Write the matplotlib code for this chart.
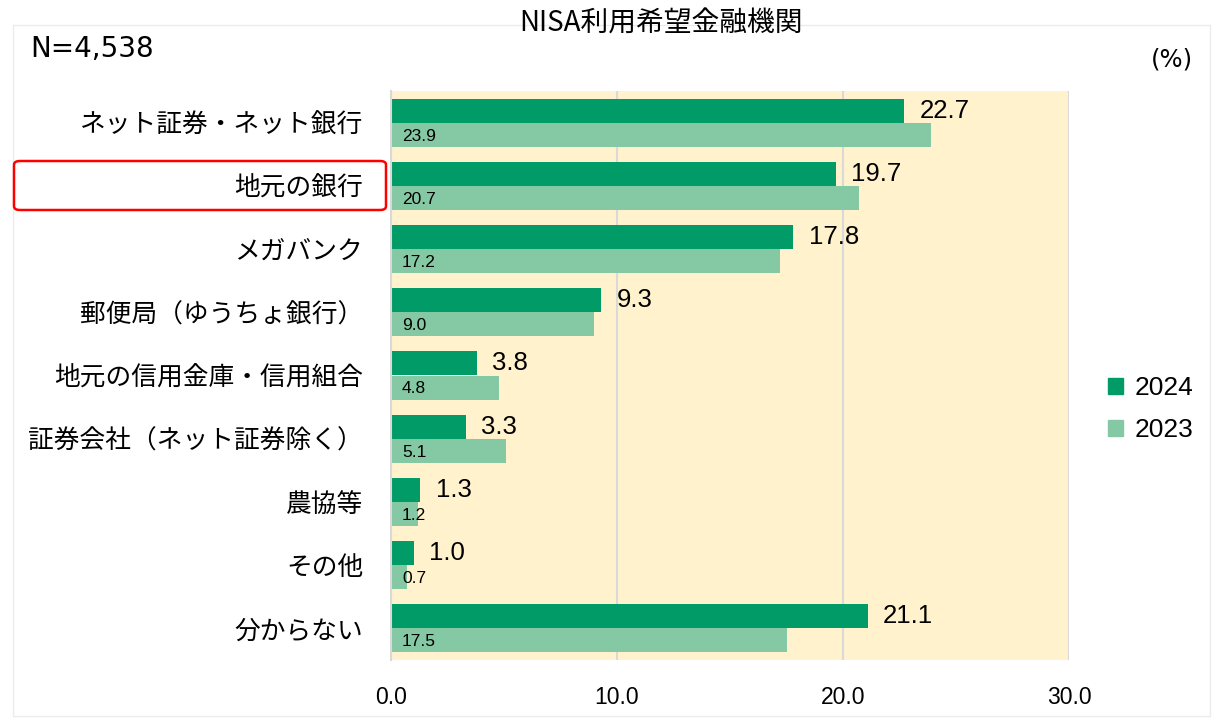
import matplotlib
matplotlib.use("Agg")
import matplotlib.pyplot as plt
from matplotlib.patches import FancyBboxPatch, Rectangle, Patch
import numpy as np

plt.rcParams['font.family'] = ['Noto Sans CJK JP', 'DejaVu Sans']

categories = ["ネット証券・ネット銀行", "地元の銀行", "メガバンク", "郵便局（ゆうちょ銀行）",
              "地元の信用金庫・信用組合", "証券会社（ネット証券除く）", "農協等", "その他", "分からない"]
v2024 = [22.7, 19.7, 17.8, 9.3, 3.8, 3.3, 1.3, 1.0, 21.1]
v2023 = [23.9, 20.7, 17.2, 9.0, 4.8, 5.1, 1.2, 0.7, 17.5]
xticks = [0, 10, 20, 30]
series_names = ["2024", "2023"]

c24 = "#009B66"
c23 = "#85C8A4"
bg = "#FFF2CC"
grid = "#D9D9D9"

arial = ['Liberation Sans', 'DejaVu Sans']

fig = plt.figure(figsize=(12.2, 7.25), dpi=100)
W, H = 1220, 725
ax = fig.add_axes([391 / W, 1 - 660 / H, (1069 - 391) / W, (660 - 91) / H])
ax.set_facecolor(bg)

n = len(categories)
y = np.arange(n)
h = 0.38
ax.barh(y - h / 2, v2024, height=h, color=c24, zorder=3)
ax.barh(y + h / 2, v2023, height=h, color=c23, zorder=3)

for i in range(n):
    ax.annotate(f"{v2024[i]:.1f}", (v2024[i], y[i] - h / 2), xytext=(11, 0),
                textcoords="offset points", ha="left", va="center",
                fontsize=18.5, family=arial, zorder=4)
    ax.annotate(f"{v2023[i]:.1f}", (0, y[i] + h / 2), xytext=(8, -1),
                textcoords="offset points", ha="left", va="center",
                fontsize=12.5, family=arial, zorder=4)

ax.set_xlim(0, 30)
ax.set_ylim(n - 0.5, -0.5)
ax.set_xticks(xticks)
ax.set_xticklabels([f"{t:.1f}" for t in xticks], family=arial, fontsize=16.5)
ax.set_yticks(y)
ax.set_yticklabels(categories, fontsize=18.5)
ax.tick_params(axis='x', length=0, pad=19)
ax.tick_params(axis='y', length=0, pad=20)
ax.grid(axis='x', color=grid, linewidth=1.5, zorder=1)
for s in ['top', 'right', 'bottom']:
    ax.spines[s].set_visible(False)
ax.spines['left'].set_color(grid)
ax.spines['left'].set_linewidth(1.5)
ax.spines['left'].set_zorder(5)

# outer chart border
fig.patches.append(Rectangle((13 / W, 1 - 716 / H), (1210 - 13) / W, (716 - 25) / H,
                             transform=fig.transFigure, fill=False,
                             edgecolor="#EBEBEB", linewidth=1))
# red highlight box
fig.patches.append(FancyBboxPatch((14 / W, 1 - 210 / H), (386 - 14) / W, (210 - 161) / H,
                                  boxstyle="round,pad=0,rounding_size=0.005",
                                  transform=fig.transFigure, fill=False,
                                  edgecolor="#FF0000", linewidth=1.8))

fig.text(661 / W, 1 - 24 / H, "NISA利用希望金融機関", ha="center", va="center", fontsize=20)
fig.text(30 / W, 1 - 49 / H, "N=4,538", ha="left", va="center", fontsize=20,
         family=['DejaVu Sans'])
fig.text(1172 / W, 1 - 60 / H, "(%)", ha="center", va="center", fontsize=17.5,
         family=['DejaVu Sans'])

handles = [Patch(color=c24), Patch(color=c23)]
leg = fig.legend(handles, series_names, loc="center left", bbox_to_anchor=(1108 / W, 1 - 409 / H),
                 frameon=False, prop={'family': arial, 'size': 19}, borderpad=0,
                 borderaxespad=0, handlelength=0.55, handleheight=0.55,
                 handletextpad=0.45, labelspacing=0.68)

fig.savefig("out.png", dpi=100)
